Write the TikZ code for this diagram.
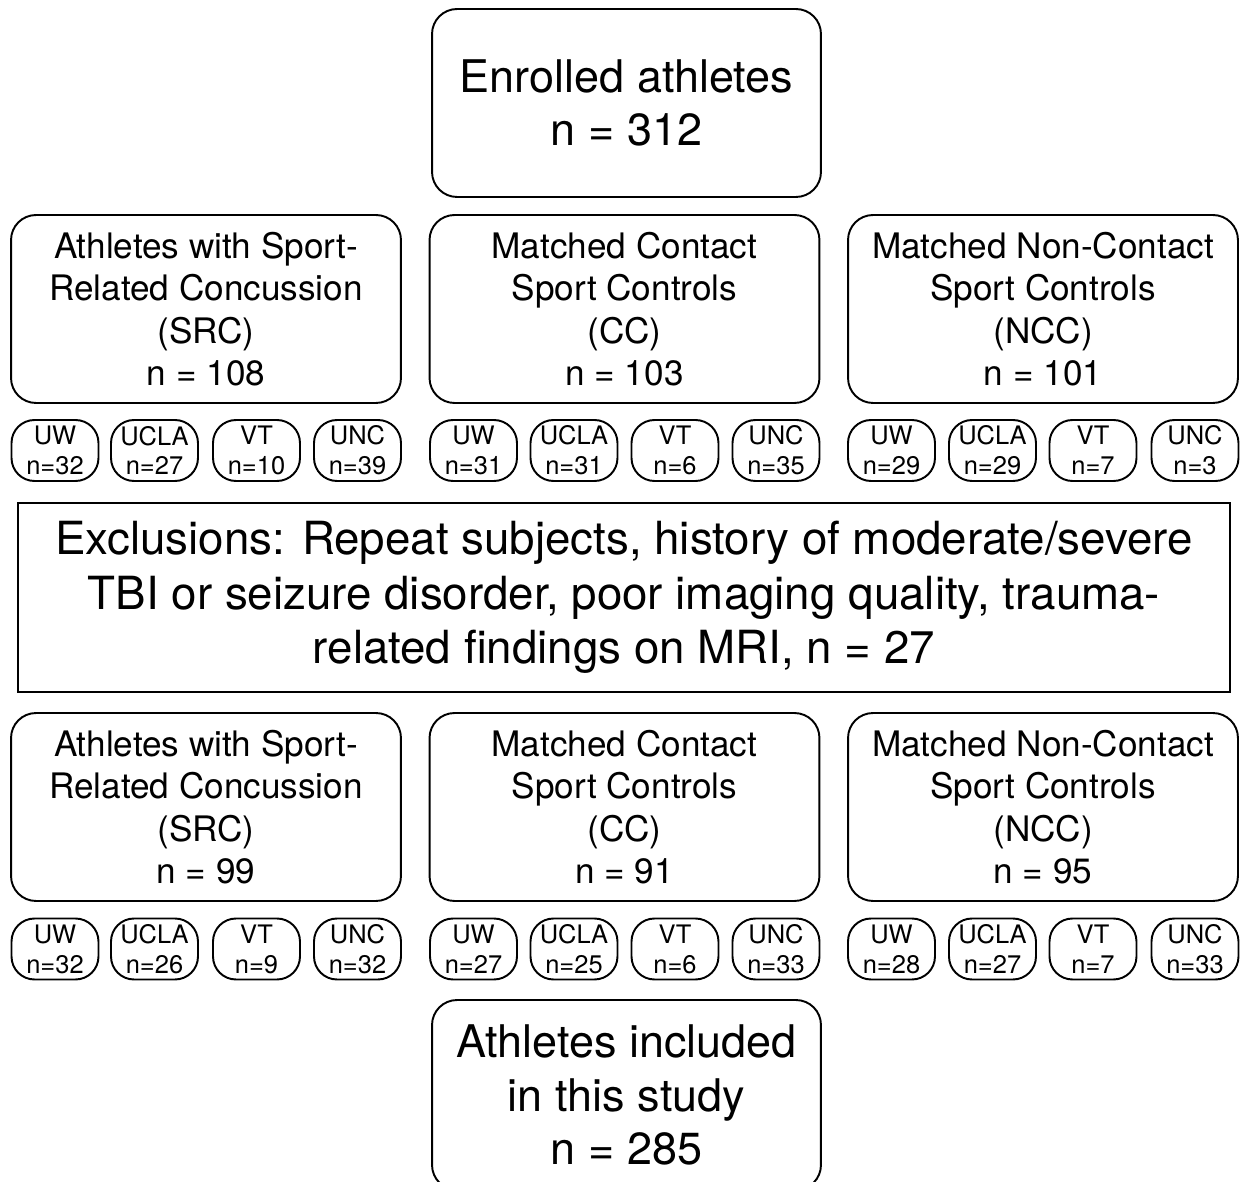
\documentclass[tikz,border=0pt]{standalone}
\usepackage{fontspec}
\setmainfont{TeX Gyre Heros}
\usetikzlibrary{positioning}
\tikzset{
  group/.style={draw, rounded corners=5mm, line width=1.1pt, align=center, minimum width=7.8cm, minimum height=3.76cm, inner sep=2pt, font=\fontsize{20}{24.2}\selectfont},
  bigbox/.style={group, minimum width=7.78cm, font=\fontsize{25.6}{30.4}\selectfont},
  exclbox/.style={draw, line width=1.1pt, align=center, minimum width=24.24cm, minimum height=3.78cm, font=\fontsize{26}{31}\selectfont},
  site/.style={draw, rounded corners=4.6mm, line width=1.1pt, align=center, minimum width=1.74cm, minimum height=1.22cm, inner sep=0pt, font=\fontsize{14.5}{17}\selectfont},
}

\begin{document}
\begin{tikzpicture}[x=0.02cm, y=-0.02cm]
  \useasboundingbox (0,0) rectangle (1249,1182);

  \node[bigbox] (enrolled) at (626.5,103) {Enrolled athletes\\n = 312};

  % groups before exclusion
  \node[group] (src1) at (206,309) {Athletes with Sport-\\Related Concussion\\(SRC)\\n = 108};
  \node[group] (cc1) at (624.5,309) {Matched Contact\\Sport Controls\\(CC)\\n = 103};
  \node[group] (ncc1) at (1043,309) {Matched Non-Contact\\Sport Controls\\(NCC)\\n = 101};

  \node[exclbox] (excl) at (624,597.5) {Exclusions: Repeat subjects, history of moderate/severe\\TBI or seizure disorder, poor imaging quality, trauma-\\related findings on MRI, n = 27};

  % groups after exclusion
  \node[group] (src2) at (206,807) {Athletes with Sport-\\Related Concussion\\(SRC)\\n = 99};
  \node[group] (cc2) at (624.5,807) {Matched Contact\\Sport Controls\\(CC)\\n = 91};
  \node[group] (ncc2) at (1043,807) {Matched Non-Contact\\Sport Controls\\(NCC)\\n = 95};

  % sites
  \foreach \px/\site/\na/\nb [count=\i] in {55/UW/32/32, 154.5/UCLA/27/26, 256.5/VT/10/9, 357.5/UNC/39/32,
      473.5/UW/31/27, 574/UCLA/31/25, 675/VT/6/6, 776/UNC/35/33,
      891.5/UW/29/28, 992.5/UCLA/29/27, 1093/VT/7/7, 1195/UNC/3/33} {
    \node[site] (pre\i) at (\px,450.5) {\site\\n=\na};
    \node[site] (post\i) at (\px,949) {\site\\n=\nb};
  }

  \node[bigbox, minimum height=3.8cm] (included) at (626.5,1095) {Athletes included\\in this study\\n = 285};
\end{tikzpicture}
\end{document}
